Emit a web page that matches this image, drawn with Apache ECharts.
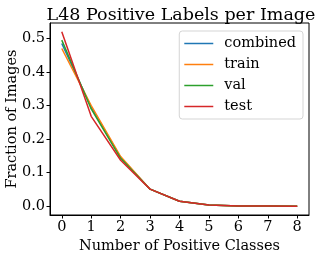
<!DOCTYPE html>
<html><head><meta charset="utf-8">
<script src="https://cdn.jsdelivr.net/npm/echarts@6/dist/echarts.min.js"></script>
<style>html,body{margin:0;padding:0;background:#fff}#c{width:319px;height:257px}</style>
</head><body><div id="c"></div>
<script>
const xValues = [0,1,2,3,4,5,6,7,8];
const combined = [0.485,0.295,0.145,0.051,0.015,0.004,0.001,0.0005,0.0002];
const train = [0.470,0.300,0.148,0.051,0.015,0.004,0.001,0.0005,0.0002];
const val = [0.495,0.290,0.143,0.051,0.015,0.004,0.001,0.0005,0.0002];
const test = [0.520,0.268,0.137,0.051,0.015,0.004,0.001,0.0005,0.0002];
const yTicks = [0,0.1,0.2,0.3,0.4,0.5];
const seriesNames = ['combined','train','val','test'];
const colors = ['#1f77b4','#ff7f0e','#2ca02c','#d62728'];
const allData = [combined, train, val, test];

const font = 'DejaVu Serif';
const fs = 14.5;
const chart = echarts.init(document.getElementById('c'), null, {renderer:'canvas'});
chart.setOption({
  animation:false,
  backgroundColor:'#fff',
  title:{text:'L48 Positive Labels per Image', left:176, top:1, textAlign:'center',
    textStyle:{fontFamily:font, fontSize:17.5, fontWeight:'normal', color:'#000'}},
  grid:{left:50, right:10, top:23, bottom:42, show:true, borderColor:'#000', borderWidth:1,
    containLabel:false, outerBoundsMode:'none'},
  legend:{orient:'vertical', right:16, top:31, data:seriesNames, icon:'rect', itemWidth:29, itemHeight:1.5, itemGap:6,
    backgroundColor:'#fff', borderColor:'#d5d5d5', borderWidth:1, borderRadius:3, padding:[5,7,5,5],
    textStyle:{fontFamily:font, fontSize:fs, color:'#000', padding:[0,0,0,6]}},
  xAxis:{type:'value', min:-0.4, max:8.4, name:'Number of Positive Classes', nameLocation:'middle', nameGap:24,
    nameMoveOverlap:false,
    nameTextStyle:{fontFamily:font, fontSize:fs, color:'#000'},
    axisLine:{show:true, onZero:false, lineStyle:{color:'#000', width:1}},
    axisTick:{show:true, length:3.5, customValues:xValues, lineStyle:{color:'#000'}},
    axisLabel:{customValues:xValues, fontFamily:font, fontSize:fs, color:'#000', margin:5},
    splitLine:{show:false}},
  yAxis:{type:'value', min:-0.026, max:0.546, name:'Fraction of Images', nameLocation:'middle', nameGap:30,
    nameMoveOverlap:false,
    nameTextStyle:{fontFamily:font, fontSize:fs, color:'#000'},
    axisLine:{show:true, onZero:false, lineStyle:{color:'#000', width:1}},
    axisTick:{show:true, length:3.5, customValues:yTicks, lineStyle:{color:'#000'}},
    axisLabel:{customValues:yTicks, fontFamily:font, fontSize:fs, color:'#000', margin:5, formatter:v=>v.toFixed(1)},
    splitLine:{show:false}},
  series: seriesNames.map((n,i)=>({name:n, type:'line', data:xValues.map((x,j)=>[x, allData[i][j]]),
    symbol:'none', showSymbol:false, color:colors[i], lineStyle:{width:1.5, color:colors[i]}}))
});
</script></body></html>
